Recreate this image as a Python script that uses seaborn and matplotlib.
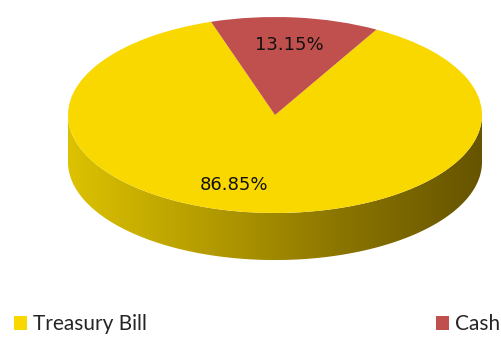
import numpy as np
import matplotlib
matplotlib.use("Agg")
import matplotlib.pyplot as plt
from matplotlib.patches import Polygon, Patch
import seaborn as sns

# data
labels = ["Treasury Bill", "Cash"]
shares = [86.85, 13.15]
colors = ["#F9D800", "#C0504D"]

sns.set_style("white")
plt.rcParams["font.family"] = ["DejaVu Sans"]

fig = plt.figure(figsize=(5.01, 3.37), dpi=100)
ax = fig.add_axes([0, 0, 1, 1])

# side wall of the 3D pie (gradient clipped to the band under the top face)
depth = 0.48
t = np.linspace(np.pi, 2 * np.pi, 200)
band = np.concatenate([np.c_[np.cos(t), np.sin(t)],
                       np.c_[np.cos(t[::-1]), np.sin(t[::-1]) - depth]])
clip = Polygon(band, closed=True, transform=ax.transData, facecolor="none", edgecolor="none")
ax.add_patch(clip)
grad = np.linspace(0, 1, 256).reshape(1, -1)
cmap = matplotlib.colors.LinearSegmentedColormap.from_list(
    "side", ["#DCC200", "#B59C00", "#8A7400", "#665400"])
img = ax.imshow(grad, cmap=cmap, aspect="auto", extent=(-1, 1, -1 - depth, 0), zorder=1)
img.set_clip_path(clip)

# top face
wedges, texts, autotexts = ax.pie(shares, colors=colors, startangle=108,
                                  autopct="%.2f%%", pctdistance=0.72,
                                  wedgeprops=dict(linewidth=0),
                                  textprops=dict(fontsize=13, color="#111111"))
for w in wedges:
    w.set_zorder(2)
for a in autotexts:
    a.set_zorder(3)
autotexts[0].set_x(-0.2)

ax.set_aspect("auto")
ax.set_xlim(-275 / 207, (501 - 275) / 207)
ax.set_ylim(-222 / 98, 115 / 98)
ax.axis("off")

# legend: one entry at each side
leg_kw = dict(frameon=False, handlelength=0.6, handleheight=0.6, handletextpad=0.3,
              borderaxespad=0, prop=dict(family="Lato", size=15))
h = [Patch(facecolor=c, edgecolor="none") for c in colors]
fig.legend([h[0]], [labels[0]], loc="lower left", bbox_to_anchor=(0.012, -0.017), **leg_kw)
fig.legend([h[1]], [labels[1]], loc="lower right", bbox_to_anchor=(1.015, -0.017), **leg_kw)

fig.savefig("out.png", dpi=100)
